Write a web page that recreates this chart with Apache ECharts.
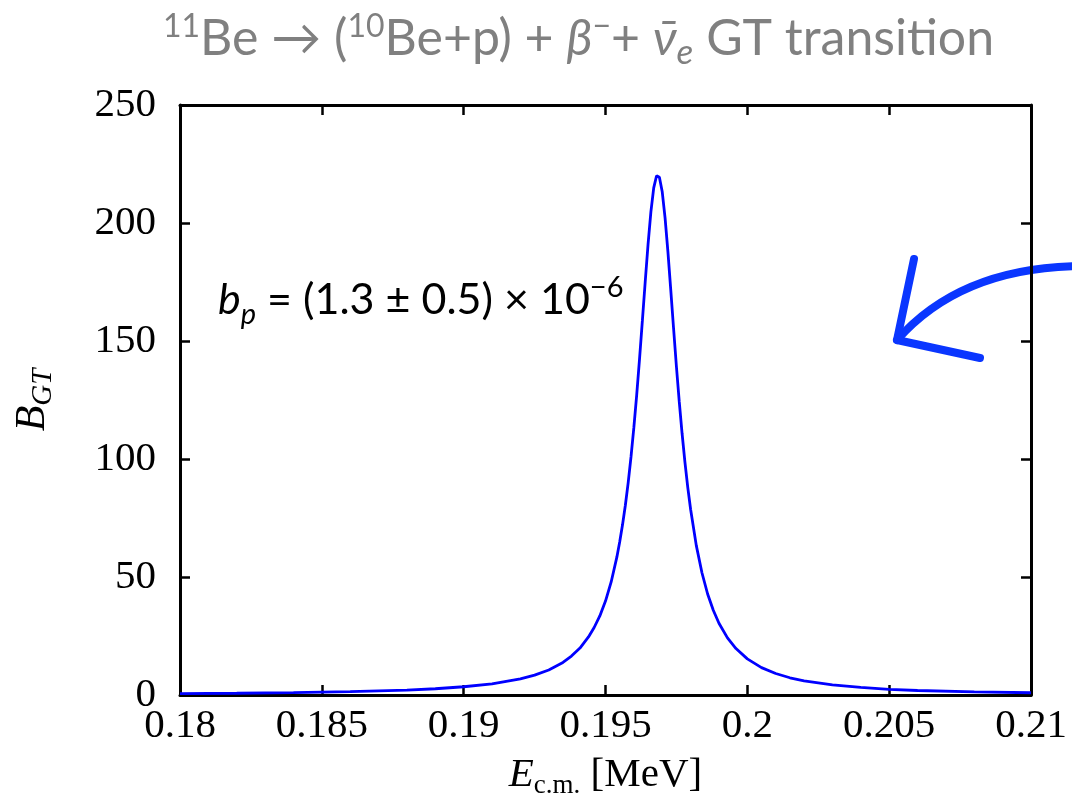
<!DOCTYPE html>
<html>
<head>
<meta charset="utf-8">
<script src="https://cdn.jsdelivr.net/npm/echarts@6/dist/echarts.min.js"></script>
<style>
html,body{margin:0;padding:0;background:#fff;}
#chart{width:1072px;height:807px;}
</style>
</head>
<body>
<div id="chart"></div>
<script>
// Data
const energies = [0.1800, 0.1820, 0.1840, 0.1860, 0.1880, 0.1890, 0.1900, 0.1910, 0.1920, 0.1925, 0.1930, 0.1935, 0.1938, 0.1941, 0.1944, 0.1946, 0.1948, 0.1950, 0.1952, 0.1954, 0.1955, 0.1956, 0.1957, 0.1958, 0.1959, 0.1960, 0.1961, 0.1962, 0.1963, 0.1964, 0.1965, 0.1966, 0.1967, 0.1968, 0.1969, 0.1970, 0.1971, 0.1972, 0.1973, 0.1974, 0.1975, 0.1976, 0.1977, 0.1978, 0.1979, 0.1980, 0.1982, 0.1984, 0.1986, 0.1988, 0.1990, 0.1993, 0.1996, 0.2000, 0.2005, 0.2010, 0.2015, 0.2020, 0.2030, 0.2040, 0.2050, 0.2060, 0.2080, 0.2100];
const bgt = [0.6, 0.75, 1.0, 1.4, 2.1, 2.65, 3.5, 4.7, 6.8, 8.4, 10.6, 13.8, 16.5, 19.9, 24.6, 28.6, 33.5, 39.8, 47.9, 58.4, 64.8, 72.1, 80.4, 90.0, 101.0, 113.4, 127.2, 142.4, 158.6, 175.1, 190.9, 204.7, 214.9, 220.0, 219.4, 213.2, 202.2, 187.9, 171.8, 155.3, 139.2, 124.3, 110.8, 98.7, 88.0, 78.7, 63.4, 51.8, 42.8, 35.9, 30.4, 24.2, 19.7, 15.3, 11.6, 9.1, 7.3, 6.0, 4.3, 3.2, 2.4, 1.9, 1.3, 0.95];
const xTicks = [0.18, 0.185, 0.19, 0.195, 0.2, 0.205, 0.21];
const yTicks = [0, 50, 100, 150, 200, 250];

const chart = echarts.init(document.getElementById('chart'));
const serif = '"Liberation Serif", "DejaVu Serif", serif';
const sans = 'Lato, "Open Sans", sans-serif';
const axisLineStyle = {color: '#000', width: 3};
const tickStyle = {color: '#000', width: 2.5};

const xMin = xTicks[0], xMax = xTicks[xTicks.length - 1];
const yMin = yTicks[0], yMax = yTicks[yTicks.length - 1];
const xStep = xTicks[1] - xTicks[0], yStep = yTicks[1] - yTicks[0];

const gray = '#808080';
const option = {
  backgroundColor: '#fff',
  animation: false,
  title: [
    {
      text: '{sup|11}{t|Be → (}{sup|10}{t|Be+p) + }{it|β}{sup|−}{t|+ }{it|ν̄}{sub|e}{t| GT transition}',
      left: 158,
      top: 3,
      textStyle: {
        fontWeight: 'normal',
        rich: {
          t: {fontFamily: sans, fontSize: 50, fontWeight: 'normal', color: gray, lineHeight: 62},
          it: {fontFamily: sans, fontSize: 50, fontWeight: 'normal', fontStyle: 'italic', color: gray, lineHeight: 62},
          sup: {fontFamily: sans, fontSize: 32, fontWeight: 'normal', color: gray, verticalAlign: 'top', lineHeight: 62, padding: [3, 0, 0, 0]},
          sub: {fontFamily: sans, fontSize: 35, fontWeight: 'normal', fontStyle: 'italic', color: gray, verticalAlign: 'bottom', lineHeight: 62}
        }
      }
    },
    {
      text: '{bi|b}{bs|p}{t| = (1.3 ± 0.5) × 10}{sup|−6}',
      left: 213,
      top: 266,
      textStyle: {
        fontWeight: 'normal',
        rich: {
          t: {fontFamily: sans, fontSize: 43, fontWeight: 'normal', color: '#000', lineHeight: 58},
          bi: {fontFamily: sans, fontSize: 43, fontWeight: 'normal', fontStyle: 'italic', color: '#000', lineHeight: 58},
          bs: {fontFamily: sans, fontSize: 29, fontWeight: 'normal', fontStyle: 'italic', color: '#000', verticalAlign: 'bottom', lineHeight: 58},
          sup: {fontFamily: sans, fontSize: 29, fontWeight: 'normal', color: '#000', verticalAlign: 'top', lineHeight: 58, padding: [2, 0, 0, 0]}
        }
      }
    }
  ],
  grid: {left: 180, right: 41, top: 105, bottom: 112},
  xAxis: [
    {
      type: 'value', min: xMin, max: xMax, interval: xStep, position: 'bottom',
      axisLine: {show: true, lineStyle: axisLineStyle, onZero: false},
      axisTick: {show: true, inside: true, length: 10, lineStyle: tickStyle},
      splitLine: {show: false},
      axisLabel: {
        fontFamily: serif, fontSize: 41, color: '#000', margin: 11,
        formatter: v => String(+v.toFixed(3))
      },
      name: '{i|E}{s|c.m.}{n| [MeV]}',
      nameLocation: 'middle',
      nameGap: 56,
      nameTextStyle: {
        rich: {
          i: {fontFamily: serif, fontStyle: 'italic', fontSize: 41, color: '#000', lineHeight: 48},
          s: {fontFamily: serif, fontSize: 27, color: '#000', verticalAlign: 'bottom', lineHeight: 48},
          n: {fontFamily: serif, fontSize: 41, color: '#000', lineHeight: 48}
        }
      }
    },
    {
      type: 'value', min: xMin, max: xMax, interval: xStep, position: 'top',
      axisLine: {show: true, lineStyle: axisLineStyle, onZero: false},
      axisTick: {show: true, inside: true, length: 10, lineStyle: tickStyle},
      splitLine: {show: false},
      axisLabel: {show: false}
    }
  ],
  yAxis: [
    {
      type: 'value', min: yMin, max: yMax, interval: yStep, position: 'left',
      axisLine: {show: true, lineStyle: axisLineStyle, onZero: false},
      axisTick: {show: true, inside: true, length: 10, lineStyle: tickStyle},
      splitLine: {show: false},
      axisLabel: {fontFamily: serif, fontSize: 41, color: '#000', margin: 24},
      name: '{i|B}{s|GT}',
      nameLocation: 'middle',
      nameGap: 122,
      nameRotate: 90,
      nameTextStyle: {
        rich: {
          i: {fontFamily: serif, fontStyle: 'italic', fontSize: 42, color: '#000', lineHeight: 50},
          s: {fontFamily: serif, fontStyle: 'italic', fontSize: 29, color: '#000', verticalAlign: 'bottom', lineHeight: 50}
        }
      }
    },
    {
      type: 'value', min: yMin, max: yMax, interval: yStep, position: 'right',
      axisLine: {show: true, lineStyle: axisLineStyle, onZero: false},
      axisTick: {show: true, inside: true, length: 10, lineStyle: tickStyle},
      splitLine: {show: false},
      axisLabel: {show: false}
    }
  ],
  series: [
    {
      type: 'line',
      xAxisIndex: 0,
      yAxisIndex: 0,
      data: energies.map((e, i) => [e, bgt[i]]),
      showSymbol: false,
      smooth: false,
      lineStyle: {color: '#0000ff', width: 2.8},
      z: 3
    }
  ],
  graphic: [
    {
      type: 'bezierCurve',
      z: -1,
      shape: {x1: 1085, y1: 266, cpx1: 962, cpy1: 266, x2: 897, y2: 340},
      style: {stroke: '#0a36ff', lineWidth: 8, fill: null, lineCap: 'round'}
    },
    {
      type: 'polyline',
      z: -1,
      shape: {points: [[914, 259], [897, 340], [980, 358]]},
      style: {stroke: '#0a36ff', lineWidth: 8, fill: null, lineCap: 'round', lineJoin: 'round'}
    }
  ]
};
chart.setOption(option);
</script>
</body>
</html>
